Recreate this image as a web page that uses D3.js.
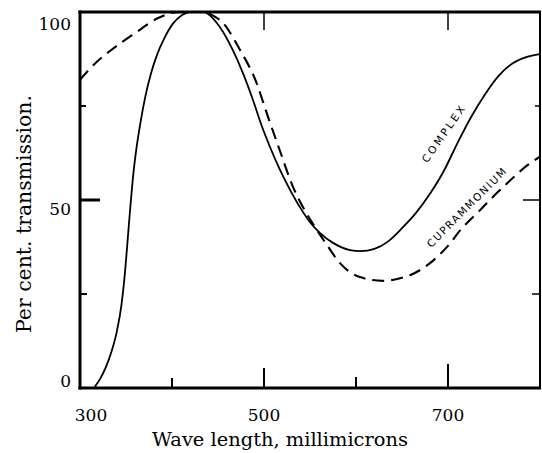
<!DOCTYPE html>
<html><head><meta charset="utf-8">
<script src="https://cdn.jsdelivr.net/npm/d3@7"></script>
<style>body{margin:0;background:#fff}svg{display:block}</style>
</head><body>
<script>
// ---- data ----
const complexWavelength = [316,322,328,334,340,345,349,352,355,358,361.5,366,371,377,384,392,401,411,422,430,437,452,466,477,488,498,506.5,517.4,528.3,539,550,561,575,593.5,605,620,635,650,665,680,695,710,725,740,755,770,785,800];
const complexPercent    = [0.3,2.5,5.5,9.5,15,22,31,40,49,57,64,71,77.5,83.5,88.8,93.2,96.9,99.2,100.2,100.3,99.8,96,89.9,83.8,76.6,69.4,64.1,58,52.7,48.1,44.1,41.2,38.6,36.7,36.4,37,39,42.5,46.5,51.5,57.5,65,72,78,83,86.3,88,88.8];
const cupraWavelength = [300,315,334,360,385,399,410,430,452,474,492,503,517,531.5,542.4,557.6,568.5,582.6,604.3,629.3,644.6,658.7,680.4,697,716.3,734.8,753.3,770.7,785,800];
const cupraPercent    = [82,86,89.9,94.4,98.4,99.7,100,100,97.9,89.9,81.1,73.1,63.3,53.5,48.1,42,38,33.2,29.5,28.5,29,30,33.2,37,42.8,47.3,51.9,55.9,59,61.5];
const xTickLabels = [300,500,700];
const yTickLabels = [0,50,100];
const xMinorTicks = [400,500,600,700];
const yMinorTicks = [25,50,75];
const xLabel = "Wave length, millimicrons";
const yLabel = "Per cent. transmission.";
const seriesLabels = ["COMPLEX","CUPRAMMONIUM"];

// ---- layout ----
const W = 542, H = 453;
const L = 80, R = 540, T = 12, B = 388;
const x = d3.scaleLinear().domain([300,800]).range([L,R]);
const y = d3.scaleLinear().domain([0,100]).range([B,T]);

const svg = d3.select("body").append("svg").attr("width",W).attr("height",H);
const serif = "'DejaVu Serif', serif";

svg.append("clipPath").attr("id","plot").append("rect")
  .attr("x",L).attr("y",T).attr("width",R-L).attr("height",B-T);

const line = d3.line().x(d=>x(d[0])).y(d=>y(d[1])).curve(d3.curveMonotoneX);
const complexData = complexWavelength.map((w,i)=>[w,complexPercent[i]]);
const cupraData = cupraWavelength.map((w,i)=>[w,cupraPercent[i]]);

const g = svg.append("g").attr("clip-path","url(#plot)");
g.append("path").datum(cupraData).attr("d",line).attr("fill","none")
  .attr("stroke","#000").attr("stroke-width",2.1).attr("stroke-dasharray","12,7");
g.append("path").datum(complexData).attr("d",line).attr("fill","none")
  .attr("stroke","#000").attr("stroke-width",1.8);

// frame
svg.append("line").attr("x1",L).attr("x2",L).attr("y1",T-1.5).attr("y2",B+1.5).attr("stroke","#000").attr("stroke-width",3);
svg.append("line").attr("x1",L-1.5).attr("x2",R+1).attr("y1",B).attr("y2",B).attr("stroke","#000").attr("stroke-width",3);
svg.append("line").attr("x1",L-1.5).attr("x2",R+1).attr("y1",T).attr("y2",T).attr("stroke","#000").attr("stroke-width",3);
svg.append("line").attr("x1",R).attr("x2",R).attr("y1",T).attr("y2",B).attr("stroke","#000").attr("stroke-width",2);

// bottom ticks (pointing up), lengths vary
const bottomLen = {400:10,500:20,600:11,700:24};
svg.selectAll(".bt").data(xMinorTicks).join("line")
  .attr("x1",d=>x(d)).attr("x2",d=>x(d)).attr("y1",B).attr("y2",d=>B-bottomLen[d])
  .attr("stroke","#000").attr("stroke-width",2);
// top ticks (pointing down)
svg.selectAll(".tt").data([500,700]).join("line")
  .attr("x1",d=>x(d)).attr("x2",d=>x(d)).attr("y1",T).attr("y2",T+18)
  .attr("stroke","#000").attr("stroke-width",1.5);
// left ticks
const sideLen = {25:7,50:20,75:6};
svg.selectAll(".lt").data(yMinorTicks).join("line")
  .attr("x1",L).attr("x2",d=>L+sideLen[d]).attr("y1",d=>y(d)).attr("y2",d=>y(d))
  .attr("stroke","#000").attr("stroke-width",d=>d===50?3:2);
// right ticks
const rightLen = {25:8,50:17,75:5};
svg.selectAll(".rt").data(yMinorTicks).join("line")
  .attr("x1",R).attr("x2",d=>R-rightLen[d]).attr("y1",d=>y(d)).attr("y2",d=>y(d))
  .attr("stroke","#000").attr("stroke-width",1.5);

// tick labels
const yOff = {0:-1,50:15,100:18};
svg.selectAll(".yl").data(yTickLabels).join("text")
  .attr("x",71).attr("y",d=>y(d)+yOff[d]).attr("text-anchor","end")
  .attr("font-family",serif).attr("font-size",17).text(d=>d);
svg.selectAll(".xl").data(xTickLabels).join("text")
  .attr("x",d=>x(d)+(d===300?11:0)).attr("y",421).attr("text-anchor","middle")
  .attr("font-family",serif).attr("font-size",17).text(d=>d);

// axis titles, fitted to measured widths
function fit(sel, target){
  const len = sel.node().getComputedTextLength();
  const fs = +sel.attr("font-size");
  sel.attr("font-size", fs*target/len);
}
const xt = svg.append("text").attr("x",280).attr("y",446).attr("text-anchor","middle")
  .attr("font-family",serif).attr("font-size",17).text(xLabel);
fit(xt,256);
const yt = svg.append("text").attr("transform","translate(31,214) rotate(-90)").attr("text-anchor","middle")
  .attr("font-family",serif).attr("font-size",17).text(yLabel);
fit(yt,238);

// curve labels
const sans = "'DejaVu Sans', sans-serif";
svg.append("text").attr("transform",`translate(${x(695.7)},${y(67.8)}) rotate(-55)`)
  .attr("text-anchor","middle").attr("dy","0.35em").attr("font-family",sans)
  .attr("font-size",10.5).attr("letter-spacing",2.6).text(seriesLabels[0]);
svg.append("text").attr("transform",`translate(${x(720.6)},${y(48.1)}) rotate(-45)`)
  .attr("text-anchor","middle").attr("dy","0.35em").attr("font-family",sans)
  .attr("font-size",10.5).attr("letter-spacing",1.6).text(seriesLabels[1]);
</script>
</body></html>
